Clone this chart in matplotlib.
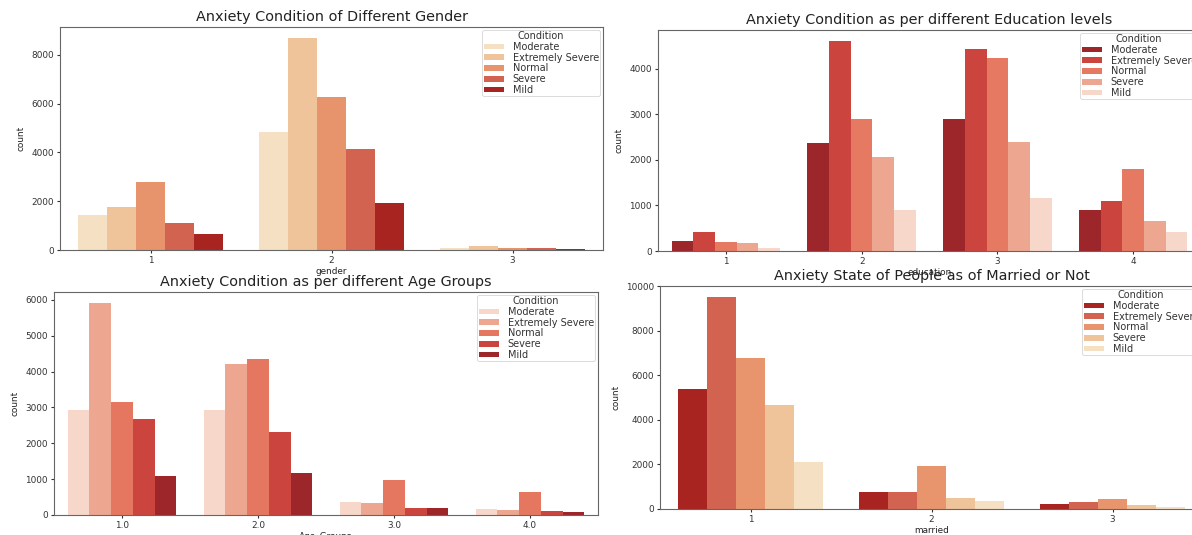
import colorsys
import numpy as np
import matplotlib
matplotlib.use("Agg")
import matplotlib.pyplot as plt

conditions = ["Moderate", "Extremely Severe", "Normal", "Severe", "Mild"]

# counts per condition (rows follow `conditions`)
gender_levels = ["1", "2", "3"]
gender_counts = [
    [1450, 4840, 80],
    [1750, 8700, 170],
    [2770, 6250, 85],
    [1125, 4135, 65],
    [640, 1910, 35],
]

edu_levels = ["1", "2", "3", "4"]
edu_counts = [
    [210, 2360, 2905, 900],
    [425, 4615, 4440, 1095],
    [190, 2885, 4225, 1800],
    [165, 2060, 2390, 665],
    [60, 895, 1170, 420],
]

age_levels = ["1.0", "2.0", "3.0", "4.0"]
age_counts = [
    [2935, 2935, 355, 165],
    [5925, 4210, 335, 130],
    [3140, 4340, 965, 655],
    [2665, 2325, 205, 105],
    [1100, 1180, 185, 75],
]

married_levels = ["1", "2", "3"]
married_counts = [
    [5410, 775, 235],
    [9545, 775, 330],
    [6765, 1920, 460],
    [4680, 505, 180],
    [2100, 370, 105],
]

W, H = 1192, 535


def palette(name, n=5, sat=0.75):
    # sample the colormap like seaborn does and desaturate the bars
    cmap = plt.get_cmap(name)
    out = []
    for c in cmap(np.linspace(0, 1, n + 2)[1:-1]):
        h, l, s = colorsys.rgb_to_hls(*c[:3])
        out.append(colorsys.hls_to_rgb(h, l, s * sat))
    return out


def box(left, top, right, bottom):
    return [left / W, 1 - bottom / H, (right - left) / W, (bottom - top) / H]


def grouped(ax, levels, counts, colors, title, xlabel):
    x = np.arange(len(levels))
    bw = 0.8 / len(conditions)
    for i, (name, vals) in enumerate(zip(conditions, counts)):
        ax.bar(x - 0.4 + bw * (i + 0.5), vals, bw, color=colors[i],
               label=name, linewidth=0)
    ax.set_xticks(x)
    ax.set_xticklabels(levels)
    ax.set_xlim(-0.5, len(levels) - 0.5)
    ax.set_title(title, fontsize=10.4, color="#222222", pad=4)
    ax.set_xlabel(xlabel, fontsize=6.4, labelpad=1, color="#222222")
    ax.set_ylabel("count", fontsize=6.4, color="#222222")
    ax.tick_params(labelsize=6.4, length=2.5, pad=2, colors="#333333")
    for sp in ax.spines.values():
        sp.set_color("#666666")
    leg = ax.legend(title="Condition", loc="upper right", fontsize=7,
                    title_fontsize=7, handlelength=2.1, handleheight=0.5,
                    labelspacing=0.08, borderpad=0.12, handletextpad=0.9,
                    borderaxespad=0.3, framealpha=0.8)
    leg.get_frame().set_linewidth(0.6)
    for t in leg.get_texts():
        t.set_color("#333333")
    leg.get_title().set_color("#333333")


fig = plt.figure(figsize=(W / 100, H / 100), dpi=100)

ax1 = fig.add_axes(box(60, 27, 603, 250))
grouped(ax1, gender_levels, gender_counts, palette("OrRd"),
        "Anxiety Condition of Different Gender", "gender")

ax2 = fig.add_axes(box(658, 30, 1201, 251))
grouped(ax2, edu_levels, edu_counts, palette("Reds_r"),
        "Anxiety Condition as per different Education levels", "education")

ax3 = fig.add_axes(box(54, 292, 598, 515))
grouped(ax3, age_levels, age_counts, palette("Reds"),
        "Anxiety Condition as per different Age Groups", "Age_Groups")

ax4 = fig.add_axes(box(660, 286, 1203, 509))
grouped(ax4, married_levels, married_counts, palette("OrRd_r"),
        "Anxiety State of People as of Married or Not", "married")

fig.savefig("out.png", dpi=100)
